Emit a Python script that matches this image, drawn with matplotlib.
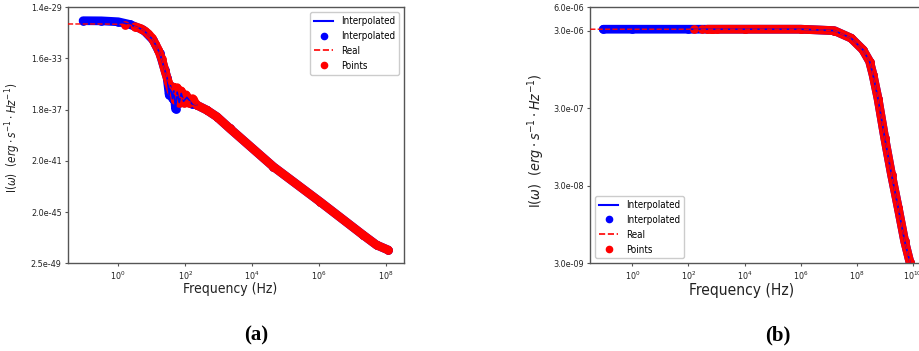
import numpy as np
import matplotlib
matplotlib.use("Agg")
import matplotlib.pyplot as plt
from matplotlib.lines import Line2D
from matplotlib import font_manager as fm

# ---- font choice (the reference text is horizontally narrow) ----
entries = fm.fontManager.ttflist
has_dv_cond = any(f.name == "DejaVu Sans" and str(f.stretch) in ("condensed", "semi-condensed") for f in entries)
has_lib_narrow = any(f.name == "Liberation Sans Narrow" for f in entries)
if has_dv_cond:
    plt.rcParams["font.family"] = ["DejaVu Sans"]
    plt.rcParams["font.stretch"] = "condensed"
elif has_lib_narrow:
    plt.rcParams["font.family"] = ["Liberation Sans Narrow", "DejaVu Sans"]
else:
    plt.rcParams["font.family"] = ["DejaVu Sans"]

# ================= DATA =================
# Panel (a)
a_interp_freq = [0.0891, 0.316, 1.0, 2.24, 5.62, 11.0, 17.4, 24.5, 28.8, 33.1, 36.3, 41.7,
                 45.7, 51.3, 57.5, 66.1, 75.9, 89.1, 112, 158, 219, 437, 871, 2138,
                 42660, 1.05e6, 2.04e7, 5.13e7, 1.15e8]
a_interp_val = [1.29e-30, 1.26e-30, 1.07e-30, 6.61e-31, 2.51e-31, 4.17e-32, 3.98e-33, 2.04e-34,
                5.01e-35, 2.51e-36, 1.26e-35, 1.26e-36, 5.01e-36, 2.0e-37, 3.98e-36, 6.31e-37,
                3.16e-36, 7.94e-37, 1.58e-36, 5.01e-37, 4.07e-37, 1.66e-37, 5.13e-38, 6.31e-39,
                7.08e-42, 1.41e-44, 3.80e-47, 6.46e-48, 2.63e-48]

a_real_freq = [0.0316, 0.316, 1.0, 2.24, 5.62, 11.0, 17.4, 24.5, 34.7, 50.1, 100, 219, 437,
               871, 2138, 42660, 1.05e6, 2.04e7, 5.13e7, 1.15e8]
a_real_val = [7.24e-31, 7.24e-31, 6.92e-31, 6.03e-31, 2.51e-31, 4.17e-32, 3.98e-33, 2.04e-34,
              1.05e-35, 2.51e-36, 1.0e-36, 4.07e-37, 1.66e-37, 5.13e-38, 6.31e-39, 7.08e-42,
              1.41e-44, 3.80e-47, 6.46e-48, 2.63e-48]

a_pts_freq = [1.58, 3.16, 4.79, 6.46, 7.94, 10.0, 12.6, 15.8, 20.0, 25.1, 31.6, 38.0, 43.7,
              50.1, 57.5, 66.1, 75.9, 89.1, 105, 132, 166, 219, 437, 871, 2138, 42660,
              1.05e6, 2.04e7, 5.13e7, 1.15e8]
a_pts_val = [6.31e-31, 4.47e-31, 3.16e-31, 1.91e-31, 1.26e-31, 6.31e-32, 2.24e-32, 7.08e-33,
             1.41e-33, 1.58e-34, 2.24e-35, 5.01e-36, 1.0e-35, 1.0e-36, 8.91e-36, 6.31e-37,
             5.01e-36, 6.31e-37, 2.51e-36, 5.62e-37, 1.26e-36, 4.07e-37, 1.66e-37, 5.13e-38,
             6.31e-39, 7.08e-42, 1.41e-44, 3.80e-47, 6.46e-48, 2.63e-48]

a_yticks = [2.5e-49, 2.2e-45, 2.0e-41, 1.8e-37, 1.6e-33, 1.4e-29]
a_yticklabels = ["2.5e-49", "2.0e-45", "2.0e-41", "1.8e-37", "1.6e-33", "1.4e-29"]
a_xticks = [1e0, 1e2, 1e4, 1e6, 1e8]

# Panel (b)
b_interp_freq = [0.0912, 1.0, 100, 1e4, 1e6, 1.58e7, 6.31e7, 1.66e8, 2.88e8, 3.80e8, 5.75e8,
                 1.0e9, 1.74e9, 3.02e9, 5.13e9, 7.76e9, 1.0e10]
b_interp_val = [3.13e-6, 3.13e-6, 3.13e-6, 3.13e-6, 3.13e-6, 3.0e-6, 2.40e-6, 1.70e-6, 1.20e-6,
                8.13e-7, 3.98e-7, 1.23e-7, 4.17e-8, 1.55e-8, 5.75e-9, 3.16e-9, 2.09e-9]

b_real_freq = [0.0316, 1.0, 100, 1e4, 1e6, 1.58e7, 6.31e7, 1.66e8, 2.88e8, 3.80e8, 5.75e8,
               1.0e9, 1.74e9, 3.02e9, 5.13e9, 7.76e9, 1.0e10]
b_real_val = [3.13e-6, 3.13e-6, 3.13e-6, 3.13e-6, 3.13e-6, 3.0e-6, 2.40e-6, 1.70e-6, 1.20e-6,
              8.13e-7, 3.98e-7, 1.23e-7, 4.17e-8, 1.55e-8, 5.75e-9, 3.16e-9, 2.09e-9]

b_pts_freq = [155, 310, 468, 617, 776, 1000, 1e4, 1e6, 1.58e7, 6.31e7, 1.66e8, 2.88e8, 3.80e8,
              5.75e8, 1.0e9, 1.74e9, 3.02e9, 5.13e9, 7.76e9, 1.0e10]
b_pts_val = [3.13e-6, 3.13e-6, 3.13e-6, 3.13e-6, 3.13e-6, 3.13e-6, 3.13e-6, 3.13e-6, 3.0e-6,
             2.40e-6, 1.70e-6, 1.20e-6, 8.13e-7, 3.98e-7, 1.23e-7, 4.17e-8, 1.55e-8, 5.75e-9,
             3.16e-9, 2.09e-9]

b_yticks = [3e-9, 3e-8, 3e-7, 3e-6, 6e-6]
b_yticklabels = ["3.0e-09", "3.0e-08", "3.0e-07", "3.0e-06", "6.0e-06"]
b_xticks = [1e0, 1e2, 1e4, 1e6, 1e8, 1e10]

legend_labels = ["Interpolated", "Interpolated", "Real", "Points"]
xlabel_text = "Frequency (Hz)"
ylabel_text = r"I($\omega$)  ($erg \cdot s^{-1} \cdot Hz^{-1}$)"

# ================= FIGURE =================
W, H = 920, 351
fig = plt.figure(figsize=(W / 100, H / 100), dpi=100)

def frac(x0, y0, x1, y1):
    return [x0 / W, 1 - y1 / H, (x1 - x0) / W, (y1 - y0) / H]

ax_a = fig.add_axes(frac(68, 7.3, 404, 263.3))
ax_b = fig.add_axes(frac(590.3, 7.3, 926.3, 263.3))

BAND = 6.3   # thickness of dense-point bands (pt)
MS = 6.3

def draw(ax, fi, vi, fr, vr, fp, vp, sparse_n, top_n):
    # interpolated points (dense -> band)
    ax.plot(fi, vi, color="blue", lw=BAND, solid_capstyle="round", solid_joinstyle="round", zorder=1)
    ax.plot(fi, vi, ls="", marker="o", ms=MS, mew=0, color="blue", zorder=1)
    # thin interpolated line (hidden under the red points where they are densest)
    ax.plot(fi, vi, color="blue", lw=1.2, zorder=1.5)
    # real points
    ax.plot(fp[sparse_n:], vp[sparse_n:], color="red", lw=BAND, solid_capstyle="round",
            solid_joinstyle="round", zorder=2)
    ax.plot(fp, vp, ls="", marker="o", ms=MS, mew=0, color="red", zorder=2)
    # interpolated line visible on top, and real dashed line
    ax.plot(fi[:top_n], vi[:top_n], color="blue", lw=1.2, zorder=3)
    ax.plot(fr, vr, color="red", lw=1.0, ls="--", zorder=4)

draw(ax_a, a_interp_freq, a_interp_val, a_real_freq, a_real_val, a_pts_freq, a_pts_val, 1, 21)
draw(ax_b, b_interp_freq, b_interp_val, b_real_freq, b_real_val, b_pts_freq, b_pts_val, 2,
     len(b_interp_freq))

handles = [
    Line2D([], [], color="blue", lw=1.5),
    Line2D([], [], color="blue", ls="", marker="o", ms=4.5),
    Line2D([], [], color="red", lw=1.2, ls="--"),
    Line2D([], [], color="red", ls="", marker="o", ms=4.5),
]

for ax in (ax_a, ax_b):
    ax.set_xscale("log")
    ax.set_yscale("log")
    ax.minorticks_off()
    for s in ax.spines.values():
        s.set_color("#555555")
        s.set_linewidth(1.0)
    ax.tick_params(axis="both", length=2.5, width=0.8, pad=2, labelsize=6.5,
                   color="#555555", labelcolor="#222222")

ax_a.set_xlim(10 ** -1.5, 10 ** 8.53)
ax_a.set_ylim(2.5e-49, 1.4e-29)
ax_a.set_xticks(a_xticks)
ax_a.set_yticks(a_yticks)
ax_a.set_yticklabels(a_yticklabels)
ax_a.minorticks_off()

ax_b.set_xlim(10 ** -1.5, 10 ** 10.48)
ax_b.set_ylim(3e-9, 6e-6)
ax_b.set_xticks(b_xticks)
ax_b.set_yticks(b_yticks)
ax_b.set_yticklabels(b_yticklabels)
ax_b.minorticks_off()

ax_a.set_xlabel(xlabel_text, fontsize=10, color="#222222")
ax_a.xaxis.set_label_coords(0.482, -0.075, transform=ax_a.transAxes)
ax_b.set_xlabel(xlabel_text, fontsize=11.2, color="#222222")
ax_b.xaxis.set_label_coords(0.45, -0.075, transform=ax_b.transAxes)

ax_a.set_ylabel(ylabel_text, fontsize=8.4, color="#222222")
ax_a.yaxis.set_label_coords(-0.135, 0.49, transform=ax_a.transAxes)
ax_b.set_ylabel(ylabel_text, fontsize=10.3, color="#222222")
ax_b.yaxis.set_label_coords(-0.129, 0.477, transform=ax_b.transAxes)

ax_a.legend(handles, legend_labels, loc="upper right", fontsize=7, framealpha=1)
ax_b.legend(handles, legend_labels, loc="lower left", fontsize=7, framealpha=1)

fig.text(256 / W, 1 - 335 / H, "(a)", ha="center", va="center", fontsize=15,
         fontweight="bold", family=["Liberation Serif", "DejaVu Serif"])
fig.text(778 / W, 1 - 335 / H, "(b)", ha="center", va="center", fontsize=15,
         fontweight="bold", family=["Liberation Serif", "DejaVu Serif"])

fig.savefig("out.png", dpi=100)
